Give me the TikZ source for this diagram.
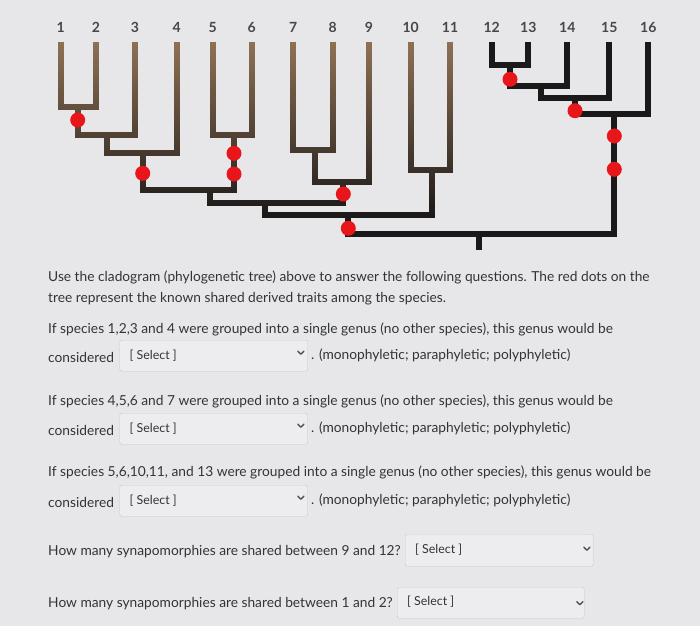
\documentclass[tikz,border=0pt]{standalone}
\usepackage{fontspec}
\setmainfont{Lato}
\usetikzlibrary{positioning, calc, fadings}

\definecolor{paper}{RGB}{231,231,233}
\definecolor{branch}{RGB}{26,24,24}
\definecolor{branchtop}{RGB}{145,115,86}
\definecolor{traitred}{RGB}{232,22,26}
\definecolor{qtext}{RGB}{48,52,58}
\definecolor{boxline}{RGB}{198,201,205}
\definecolor{boxfill}{RGB}{237,237,239}

\tikzfading[name=fade down, top color=transparent!0, middle color=transparent!20, bottom color=transparent!100]

\tikzset{
    tiplabel/.style={font=\bfseries\fontsize{14}{16}\selectfont, text=black!72, inner sep=0pt},
    branchline/.style={draw=branch, line width=6pt},
    trait/.style={circle, fill=traitred, inner sep=0pt, minimum size=15pt},
    question/.style={anchor=west, inner sep=0pt, text=qtext, font=\fontsize{13.75}{16}\selectfont},
    selectbox/.style={draw=boxline, fill=boxfill, rounded corners=2pt, anchor=north west, inner sep=0pt, minimum width=188pt, minimum height=31pt},
    seltext/.style={anchor=west, inner sep=0pt, text=qtext, font=\fontsize{12.4}{14}\selectfont},
    chevron/.style={draw=qtext!85, line width=1.4pt, line cap=round, line join=round}
}

% child/parent pairs of the cladogram
\newcommand{\leftlinks}{t1/a12, t2/a12, a12/a123, t3/a123, a123/a1234, t4/a1234, t5/a56, t6/a56, a1234/a16, a56/a16, t7/a78, t8/a78, a78/a789, t9/a789, a16/a19, a789/a19, t10/a1011, t11/a1011, a19/a111, a1011/a111}
\newcommand{\rightlinks}{t12/a1213, t13/a1213, a1213/a1214, t14/a1214, a1214/a1215, t15/a1215, a1215/a1216, t16/a1216, a111/root, a1216/root}

\begin{document}
\begin{tikzpicture}[x=1pt, y=-1pt]
    % Paper
    \fill[paper] (0,0) rectangle (700,626);
    \useasboundingbox (0,0) rectangle (700,626);

    % Tips
    \foreach \i/\x in {1/60.7, 2/96, 3/135, 4/176.7, 5/212.7, 6/251.7, 7/293.3, 8/332.7, 9/369, 10/410.7, 11/450, 12/491.7, 13/528.3, 14/567.3, 15/609.3, 16/648.3} {
        \coordinate (t\i) at (\x,42);
        \node[tiplabel] (lab\i) at (\x,27) {\i};
    }

    % Clades
    \coordinate (a12) at (77.7,106.7);
    \coordinate (a123) at (106.7,135);
    \coordinate (a1234) at (142.7,153);
    \coordinate (a56) at (234,135);
    \coordinate (a16) at (210,190);
    \coordinate (a78) at (315,150);
    \coordinate (a789) at (343.3,181.7);
    \coordinate (a19) at (265,202.7);
    \coordinate (a1011) at (432.3,170);
    \coordinate (a111) at (348.3,215);
    \coordinate (a1213) at (510,65);
    \coordinate (a1214) at (540.7,86);
    \coordinate (a1215) at (575,98.3);
    \coordinate (a1216) at (614.3,114);
    \coordinate (root) at (479,233.5);
    \coordinate (base) at (479,250);

    % Branches
    \draw[branchline] foreach \c/\p in \leftlinks {(\c) |- (\p)}
        foreach \c/\p in \rightlinks {(\c) |- (\p)} (root) -- (base);
    \draw[branchline, draw=branchtop, path fading=fade down] foreach \c/\p in \leftlinks {(\c) |- (\p)};

    % Shared derived traits
    \foreach \n/\x/\y in {1/77.7/120, 2/142.7/173.3, 3/234/153.3, 4/234/174, 5/343.3/194, 6/348.3/228.3, 7/510/79.3, 8/575/110.7, 9/614.3/136, 10/614.3/169.3}
        \node[trait] (dot\n) at (\x,\y) {};

    % Questions
    \node[question] (intro1) at (48,277.5) {Use the cladogram (phylogenetic tree) above to answer the following questions. The red dots on the};
    \node[question] (intro2) at (48,299) {tree represent the known shared derived traits among the species.};
    \node[question] (q1) at (48,329.5) {If species 1,2,3 and 4 were grouped into a single genus (no other species), this genus would be};
    \node[question] (q2) at (48,401) {If species 4,5,6 and 7 were grouped into a single genus (no other species), this genus would be};
    \node[question] (q3) at (48,472) {If species 5,6,10,11, and 13 were grouped into a single genus (no other species), this genus would be};
    \foreach \n/\y in {1/340, 2/413, 3/485} {
        \node[selectbox] (sel\n) at (119.5,\y) {};
        \node[question] (con\n) at (48,\y+17.5) {considered};
        \node[seltext] (pick\n) at ($(sel\n.north west)+(10,15.5)$) {[ Select ]};
        \draw[chevron] ($(sel\n.east)+(-10,-4.5)$) -- ++(3,3) -- ++(3,-3);
        \node[question, right=3pt of sel\n] (opt\n) {. (monophyletic; paraphyletic; polyphyletic)};
    }
    \node[question] (q4) at (48,552) {How many synapomorphies are shared between 9 and 12?};
    \node[selectbox, minimum width=188pt, minimum height=32pt] (sel4) at (405,534) {};
    \node[seltext] (pick4) at ($(sel4.north west)+(10,16)$) {[ Select ]};
    \draw[chevron] ($(sel4.east)+(-9.5,-3)$) -- ++(3,3) -- ++(3,-3);
    \node[question] (q5) at (48,604) {How many synapomorphies are shared between 1 and 2?};
    \node[selectbox, minimum width=187pt, minimum height=31pt] (sel5) at (397,587) {};
    \node[seltext] (pick5) at ($(sel5.north west)+(10,15)$) {[ Select ]};
    \draw[chevron] ($(sel5.east)+(-7.5,-1)$) -- ++(3,3) -- ++(3,-3);
\end{tikzpicture}
\end{document}
